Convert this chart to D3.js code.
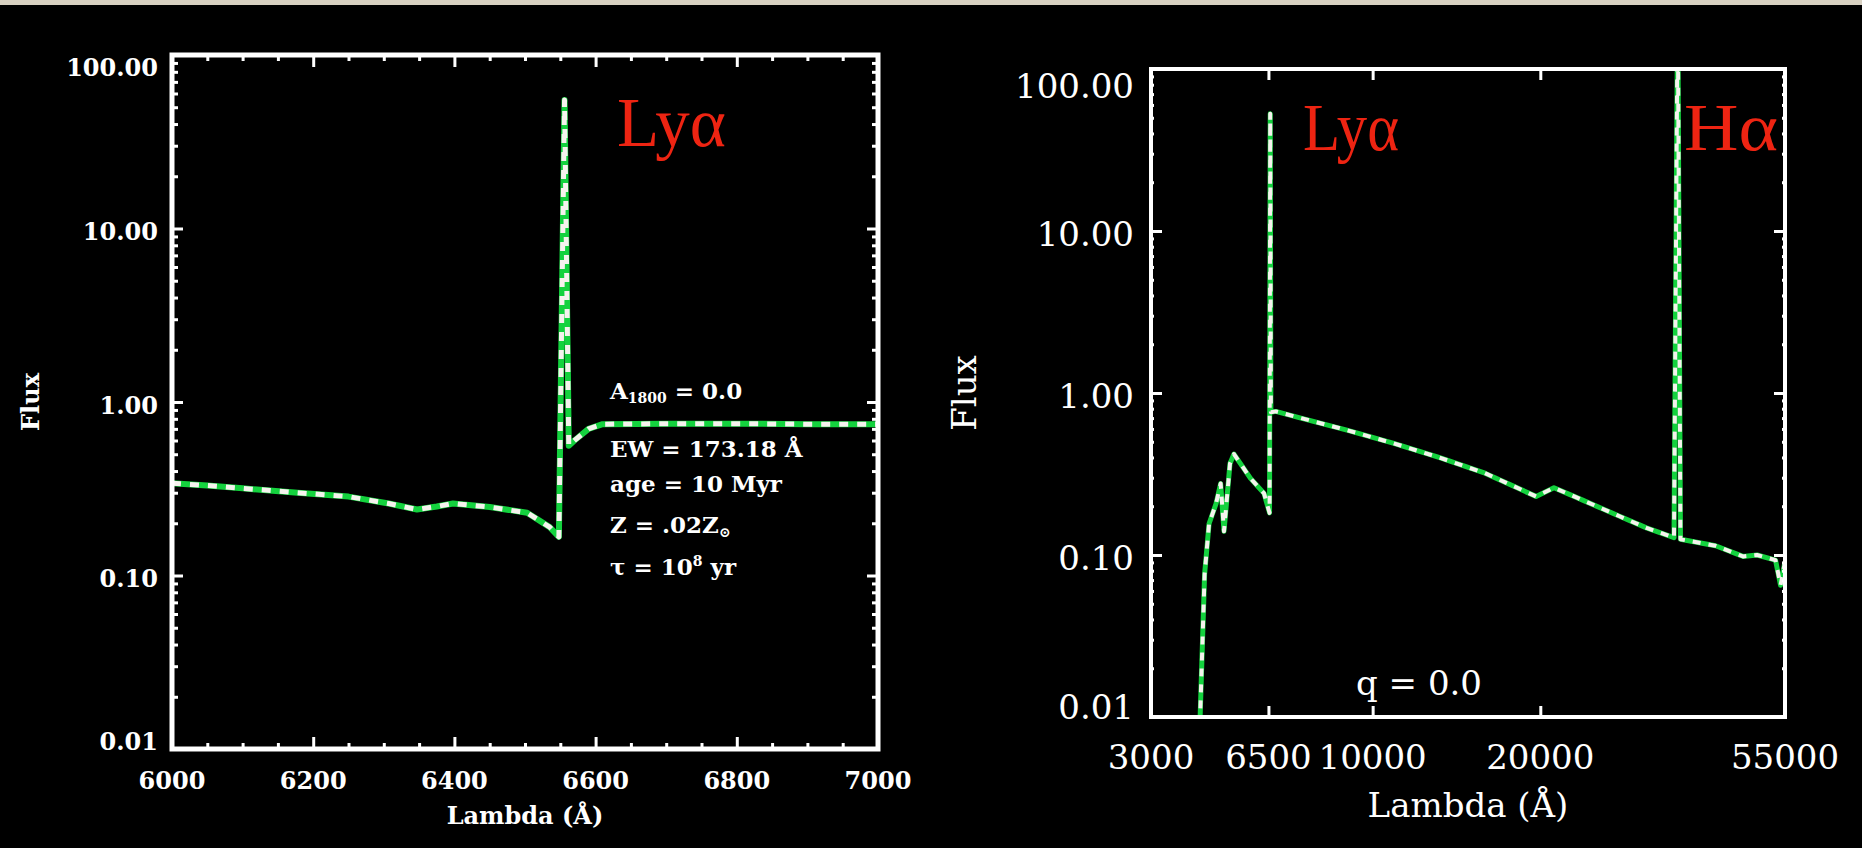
<!DOCTYPE html>
<html>
<head>
<meta charset="utf-8">
<script src="https://cdn.jsdelivr.net/npm/d3@7"></script>
<style>
  html, body { margin: 0; padding: 0; background: #000; }
  svg { display: block; }
</style>
</head>
<body>
<svg id="chart" width="1862" height="848"></svg>
<script>
// ---- Data: narrow-band spectrum around the redshifted Ly-alpha line ----
const leftWave = [6000, 6050, 6100, 6178, 6250, 6307, 6347, 6375, 6398, 6450, 6503, 6535, 6548, 6556, 6562, 6570, 6590, 6610, 6700, 6800, 6900, 7000];
const leftFlux = [0.34, 0.33, 0.318, 0.30, 0.285, 0.26, 0.24, 0.25, 0.26, 0.248, 0.23, 0.19, 0.167, 55, 0.56, 0.6, 0.70, 0.745, 0.75, 0.75, 0.745, 0.745];

// ---- Data: broad-band spectrum with Ly-alpha and H-alpha lines ----
const rightWave = [4896, 4992, 5085, 5233, 5335, 5409, 5545, 5637, 6036, 6383, 6530, 6548, 6566, 6700, 7435, 8991, 10880, 13157, 15912, 19650, 21162, 23272, 27690, 31024, 34760, 35300, 35700, 41270, 46230, 49000, 52880, 54000, 54960];
const rightFlux = [0.009, 0.076, 0.156, 0.207, 0.276, 0.14, 0.367, 0.42, 0.297, 0.24, 0.182, 53, 0.76, 0.77, 0.70, 0.59, 0.49, 0.40, 0.32, 0.23, 0.26, 0.226, 0.174, 0.147, 0.128, 300, 0.125, 0.114, 0.098, 0.1, 0.093, 0.065, 0.09];

// ---- Axis ticks ----
const fluxTicks = [0.01, 0.1, 1, 10, 100];
const fluxTickLabels = ["0.01", "0.10", "1.00", "10.00", "100.00"];
const leftWaveTicks = [6000, 6200, 6400, 6600, 6800, 7000];
const leftWaveTickLabels = ["6000", "6200", "6400", "6600", "6800", "7000"];
const rightWaveTicks = [4000, 6500, 10000, 20000, 55000];
const rightWaveTickLabels = ["3000", "6500", "10000", "20000", "55000"];

// ---- Annotations ----
const leftParams = [
  [{t: "A"}, {t: "1800", sub: true}, {t: " = 0.0"}],
  [{t: "EW = 173.18 Å"}],
  [{t: "age = 10 Myr"}],
  [{t: "Z = .02Z"}, {t: "⊙", sub: true}],
  [{t: "τ = 10"}, {t: "8", sup: true}, {t: " yr"}]
];
const leftParamBaselines = [399, 457, 492, 533, 575];
const rightNote = "q = 0.0";

const svg = d3.select("#chart");
svg.append("rect").attr("width", 1862).attr("height", 848).attr("fill", "#000");
// light page strip along the top edge
svg.append("rect").attr("x", 0).attr("y", 0).attr("width", 1862).attr("height", 5).attr("fill", "#d8d1c2");

const GREEN = "#14d23e";
const WHITE = "#f6f2ee";
const RED = "#ee2412";

function drawPanel(cfg) {
  const g = svg.append("g");
  const {x0, x1, y0, y1} = cfg;
  const x = cfg.xScale.range([x0, x1]);
  const y = d3.scaleLog().domain([0.01, 100]).range([y1, y0]);

  const clipId = "clip-" + cfg.id;
  svg.append("clipPath").attr("id", clipId)
    .append("rect").attr("x", x0).attr("y", y0).attr("width", x1 - x0).attr("height", y1 - y0);

  // spectrum: green line with white dashes on top
  const line = d3.line().x((d) => x(d[0])).y((d) => y(d[1]));
  const pts = cfg.wave.map((w, i) => [w, cfg.flux[i]]);
  const lg = g.append("g").attr("clip-path", `url(#${clipId})`);
  lg.append("path").datum(pts).attr("d", line)
    .attr("fill", "none").attr("stroke", GREEN).attr("stroke-width", cfg.lineW)
    .attr("stroke-linejoin", "round");
  lg.append("path").datum(pts).attr("d", line)
    .attr("fill", "none").attr("stroke", WHITE).attr("stroke-width", cfg.lineW - 1)
    .attr("stroke-dasharray", cfg.dash).attr("stroke-linejoin", "round");

  // y minor ticks (2..9 per decade), left and right sides
  const minor = [];
  for (let e = -2; e < 2; e++) for (let k = 2; k <= 9; k++) minor.push(k * Math.pow(10, e));
  const tickStyle = (sel) => sel.call((s) => s.select(".domain").remove())
    .selectAll("line").attr("stroke", "#fff").attr("stroke-width", 3);

  g.append("g").attr("transform", `translate(${x0},0)`)
    .call(d3.axisRight(y).tickValues(minor).tickSize(cfg.yMinor).tickFormat(""))
    .call(tickStyle);
  g.append("g").attr("transform", `translate(${x1},0)`)
    .call(d3.axisLeft(y).tickValues(minor).tickSize(cfg.yMinor).tickFormat(""))
    .call(tickStyle);
  g.append("g").attr("transform", `translate(${x0},0)`)
    .call(d3.axisRight(y).tickValues(fluxTicks).tickSize(cfg.yMajor).tickFormat(""))
    .call(tickStyle);
  g.append("g").attr("transform", `translate(${x1},0)`)
    .call(d3.axisLeft(y).tickValues(fluxTicks).tickSize(cfg.yMajor).tickFormat(""))
    .call(tickStyle);

  // x ticks, bottom and top
  if (cfg.xMinorTicks) {
    g.append("g").attr("transform", `translate(0,${y1})`)
      .call(d3.axisTop(x).tickValues(cfg.xMinorTicks).tickSize(cfg.xMinor).tickFormat(""))
      .call(tickStyle);
    g.append("g").attr("transform", `translate(0,${y0})`)
      .call(d3.axisBottom(x).tickValues(cfg.xMinorTicks).tickSize(cfg.xMinor).tickFormat(""))
      .call(tickStyle);
  }
  g.append("g").attr("transform", `translate(0,${y1})`)
    .call(d3.axisTop(x).tickValues(cfg.xTicks).tickSize(cfg.xMajor).tickFormat(""))
    .call(tickStyle);
  g.append("g").attr("transform", `translate(0,${y0})`)
    .call(d3.axisBottom(x).tickValues(cfg.xTicks).tickSize(cfg.xMajor).tickFormat(""))
    .call(tickStyle);

  // frame
  g.append("rect").attr("x", x0).attr("y", y0).attr("width", x1 - x0).attr("height", y1 - y0)
    .attr("fill", "none").attr("stroke", "#fff").attr("stroke-width", cfg.frameW);

  const font = (sel, size) => sel.attr("font-family", "'DejaVu Serif', serif")
    .attr("font-size", size).attr("font-weight", cfg.weight).attr("fill", "#fff");

  // y tick labels
  fluxTicks.forEach((v, i) => {
    const cy = Math.max(y0 + cfg.fs * 0.5, Math.min(y1 - cfg.fs * 0.3, y(v) + 3));
    g.append("text").attr("x", cfg.yLabelX).attr("y", cy).attr("dy", "0.36em")
      .attr("text-anchor", "end").text(fluxTickLabels[i]).call(font, cfg.fs);
  });
  // x tick labels
  cfg.xTicks.forEach((v, i) => {
    g.append("text").attr("x", x(v)).attr("y", cfg.xLabelY).attr("dy", "0.36em")
      .attr("text-anchor", "middle").text(cfg.xTickLabels[i]).call(font, cfg.fs);
  });
  // axis titles
  g.append("text").attr("x", (x0 + x1) / 2).attr("y", cfg.xTitleY).attr("dy", "0.36em")
    .attr("text-anchor", "middle").text("Lambda (Å)").call(font, cfg.fs);
  g.append("text").attr("transform", `translate(${cfg.yTitleX},${(y0 + y1) / 2}) rotate(-90)`)
    .attr("dy", "0.36em").attr("text-anchor", "middle").text("Flux").call(font, cfg.fs);

  // emission line labels
  cfg.lineLabels.forEach((l) => {
    g.append("text").attr("x", l.x).attr("y", l.y)
      .attr("font-family", "'Liberation Serif', 'Times New Roman', serif")
      .attr("font-size", l.size).attr("fill", RED)
      .attr("textLength", l.w).attr("lengthAdjust", "spacingAndGlyphs")
      .text(l.text);
  });
  return {g, x, y, font};
}

// ---- Left panel: 6000-7000 Å ----
const leftMinorX = d3.range(6050, 7000, 50).filter((v) => v % 200 !== 0);
const L = drawPanel({
  id: "left", x0: 172, x1: 878, y0: 55, y1: 749,
  xScale: d3.scaleLinear().domain([6000, 7000]),
  wave: leftWave, flux: leftFlux,
  xTicks: leftWaveTicks, xTickLabels: leftWaveTickLabels, xMinorTicks: leftMinorX,
  xMajor: 12, xMinor: 6, yMajor: 11, yMinor: 6,
  lineW: 6, dash: "9,9", frameW: 5,
  fs: 24, weight: "bold",
  yLabelX: 158, xLabelY: 780, xTitleY: 815, yTitleX: 30,
  lineLabels: [{text: "Lyα", x: 617, y: 146, size: 70, w: 109}]
});

// parameter block
leftParams.forEach((row, i) => {
  const t = L.g.append("text").attr("x", 610).attr("y", leftParamBaselines[i]).call(L.font, 23);
  row.forEach((p) => {
    const ts = t.append("tspan").text(p.t);
    if (p.sub) ts.attr("font-size", 14).attr("baseline-shift", "-4");
    if (p.sup) ts.attr("font-size", 14).attr("baseline-shift", "9");
  });
});

// ---- Right panel: 4000-55000 Å, log wavelength ----
const R = drawPanel({
  id: "right", x0: 1151, x1: 1785, y0: 69, y1: 717,
  xScale: d3.scaleLog().domain([4000, 55000]),
  wave: rightWave, flux: rightFlux,
  xTicks: rightWaveTicks, xTickLabels: rightWaveTickLabels, xMinorTicks: null,
  xMajor: 11, xMinor: 0, yMajor: 11, yMinor: 3,
  lineW: 5, dash: "8,8", frameW: 4,
  fs: 34, weight: "normal",
  yLabelX: 1134, xLabelY: 757, xTitleY: 805, yTitleX: 964,
  lineLabels: [
    {text: "Lyα", x: 1303, y: 150, size: 68, w: 96},
    {text: "Hα", x: 1684, y: 150, size: 68, w: 94}
  ]
});
R.g.append("text").attr("x", 1419).attr("y", 683).attr("dy", "0.36em")
  .attr("text-anchor", "middle").text(rightNote).call(R.font, 34);
</script>
</body>
</html>
